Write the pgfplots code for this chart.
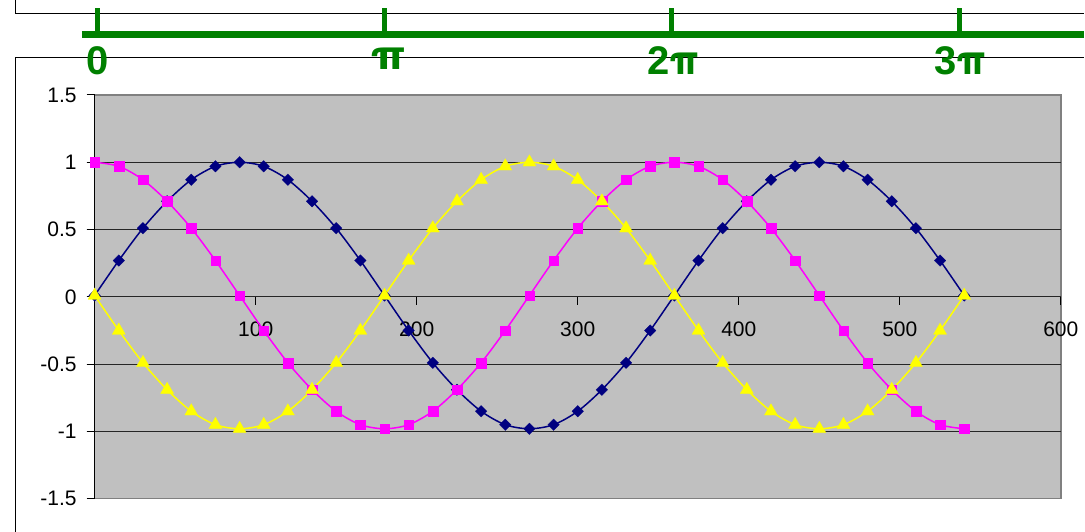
\documentclass[border=0pt]{standalone}
\usepackage{fontspec}
\setmainfont{Liberation Sans}
\newfontfamily\pifont{TeX Gyre Heros}
\usepackage{pgfplots}
\pgfplotsset{compat=1.18}
\definecolor{xlnavy}{HTML}{000080}
\definecolor{xlpink}{HTML}{FF00FF}
\definecolor{xlyellow}{HTML}{FFFF00}
\definecolor{xlsilver}{HTML}{C0C0C0}
\definecolor{xlgrey}{HTML}{808080}
\definecolor{xlgreen}{HTML}{008000}

\begin{document}
\begin{tikzpicture}
\begin{scope}[x=0.5pt,y=-0.5pt]
\useasboundingbox (0,0) rectangle (1085,532);

% frames of the neighbouring chart objects
\draw[black, line width=0.5pt] (15.5,0) -- (15.5,13) -- (1085,13);
\draw[black, line width=0.5pt] (15.5,532) -- (15.5,57.5) -- (1085,57.5);

% green radian scale on top
\draw[xlgreen, line width=3.5pt] (82,34.5) -- (1085,34.5);
\foreach \px in {97.5,384.7,672,959.5}
  \draw[xlgreen, line width=2.5pt] (\px,8.3) -- (\px,34.5);
\begin{scope}[every node/.style={text=xlgreen, inner sep=0pt, anchor=base,
    font=\fontsize{20pt}{24pt}\selectfont\bfseries}]
  \node at (97.5,75) {0};
  \node at (389,69.5) {\scalebox{1.2}[1]{\pifont π}};
  \node at (674,75) {2{\pifont π}};
  \node at (960.5,75) {3{\pifont π}};
\end{scope}
\end{scope}

\begin{axis}[
  at={(47.35pt,-249.5pt)}, anchor=south west,
  scale only axis, width=483.35pt, height=202pt,
  xmin=0, xmax=600, ymin=-1.5, ymax=1.5,
  axis x line*=middle, axis y line*=left,
  axis background/.style={fill=xlsilver, draw=xlgrey, line width=0.75pt},
  axis line style={black, line width=0.5pt},
  tick style={black, line width=0.5pt},
  tick align=outside, major tick length=4pt,
  xtick={0,100,200,300,400,500,600},
  xticklabels={0,100,200,300,400,500,600},
  ytick={-1.5,-1,-0.5,0,0.5,1,1.5},
  yticklabels={-1.5,-1,-0.5,0,0.5,1,1.5},
  extra y ticks={-1,-0.5,0,0.5,1}, extra y tick labels={},
  extra y tick style={grid=major},
  major grid style={black!85, line width=0.5pt},
  /pgf/number format/assume math mode=true,
  tick label style={font=\fontsize{10.5pt}{12pt}\selectfont, text=black},
  xticklabel style={yshift=-5pt},
  yticklabel style={xshift=-1.5pt},
  clip=false,
]
\addplot[xlnavy, line width=0.75pt, smooth, mark=square*, mark size=2.05pt,
  mark options={rotate=45, solid, fill=xlnavy, draw=xlnavy, line width=0.1pt}]
  coordinates {
  (0,0.01) (15,0.27) (30,0.51) (45,0.71) (60,0.87) (75,0.97) (90,1.00)
  (105,0.97) (120,0.87) (135,0.71) (150,0.51) (165,0.27) (180,0.01)
  (195,-0.25) (210,-0.49) (225,-0.69) (240,-0.85) (255,-0.95) (270,-0.98)
  (285,-0.95) (300,-0.85) (315,-0.69) (330,-0.49) (345,-0.25) (360,0.01)
  (375,0.27) (390,0.51) (405,0.71) (420,0.87) (435,0.97) (450,1.00)
  (465,0.97) (480,0.87) (495,0.71) (510,0.51) (525,0.27) (540,0.01)};
\addplot[xlpink, line width=0.75pt, smooth, mark=square*, mark size=2.4pt,
  mark options={solid, fill=xlpink, draw=xlpink, line width=0.1pt}]
  coordinates {
  (0,1.00) (15,0.97) (30,0.87) (45,0.71) (60,0.51) (75,0.27) (90,0.01)
  (105,-0.25) (120,-0.49) (135,-0.69) (150,-0.85) (165,-0.95) (180,-0.98)
  (195,-0.95) (210,-0.85) (225,-0.69) (240,-0.49) (255,-0.25) (270,0.01)
  (285,0.27) (300,0.51) (315,0.71) (330,0.87) (345,0.97) (360,1.00)
  (375,0.97) (390,0.87) (405,0.71) (420,0.51) (435,0.27) (450,0.01)
  (465,-0.25) (480,-0.49) (495,-0.69) (510,-0.85) (525,-0.95) (540,-0.98)};
\addplot[xlyellow, line width=0.75pt, smooth, mark=triangle*, mark size=3.8pt,
  mark options={solid, fill=xlyellow, draw=xlyellow, line width=0.1pt}]
  coordinates {
  (0,0.01) (15,-0.25) (30,-0.49) (45,-0.69) (60,-0.85) (75,-0.95) (90,-0.98)
  (105,-0.95) (120,-0.85) (135,-0.69) (150,-0.49) (165,-0.25) (180,0.01)
  (195,0.27) (210,0.51) (225,0.71) (240,0.87) (255,0.97) (270,1.00)
  (285,0.97) (300,0.87) (315,0.71) (330,0.51) (345,0.27) (360,0.01)
  (375,-0.25) (390,-0.49) (405,-0.69) (420,-0.85) (435,-0.95) (450,-0.98)
  (465,-0.95) (480,-0.85) (495,-0.69) (510,-0.49) (525,-0.25) (540,0.01)};
\end{axis}
\end{tikzpicture}
\end{document}
